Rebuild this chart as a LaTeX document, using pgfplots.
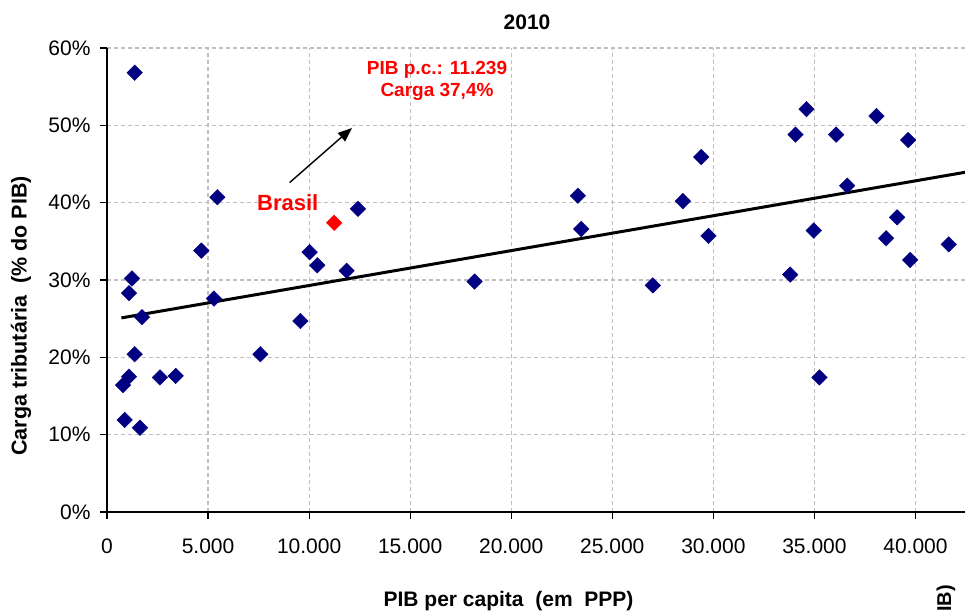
\documentclass[border=0pt]{standalone}
\usepackage{pgfplots}
\pgfplotsset{compat=1.18}
\usepackage{fontspec}
\setmainfont{Liberation Sans}
\usetikzlibrary{arrows.meta}

\definecolor{navy}{HTML}{000080}
\definecolor{gridgray}{HTML}{BFBFBF}

% GDP per capita (PPP) vs. tax burden (% of GDP), 2010
\pgfplotstableread{
x      y
1370   56.8
5460   40.7
4670   33.8
12415  39.2
10025  33.6
10405  31.9
11855  31.2
18186  29.8
1237   30.2
1088   28.3
5292   27.6
1731   25.2
9565   24.7
1370   20.4
7587   20.4
1088   17.5
791    16.4
2621   17.4
3398   17.6
875    11.9
1632   10.9
23296  40.9
23463  36.6
28490  40.2
29400  45.9
29760  35.7
27005  29.3
34607  52.1
34063  48.8
36075  48.8
38070  51.2
39638  48.1
36620  42.2
34968  36.4
39093  38.1
38550  35.4
39737  32.6
41646  34.6
33800  30.7
35250  17.4
}\paises

\begin{document}
\begin{tikzpicture}[x=1pt,y=1pt]
\useasboundingbox (0,0) rectangle (965,614);
\begin{axis}[
  at={(107pt,102pt)}, anchor=south west,
  scale only axis, width=859pt, height=464pt,
  xmin=0, xmax=42500, ymin=0, ymax=60,
  axis lines*=left,
  axis line style={line width=1.6pt},
  xtick={0,5000,...,40000}, ytick={0,10,...,60},
  scaled x ticks=false,
  tick align=outside, major tick length=7pt,
  tick style={black, line width=1.2pt},
  grid=major,
  grid style={gridgray, dash pattern=on 4pt off 3pt, line width=1.2pt},
  /pgf/number format/1000 sep={.},
  /pgf/number format/assume math mode=true,
  yticklabel={\pgfmathprintnumber{\tick}\%},
  ticklabel style={font=\fontsize{21}{25}\selectfont},
  xticklabel style={anchor=base, yshift=-34pt},
  yticklabel style={anchor=east, xshift=-6pt},
]
\addplot[only marks, mark=square*, mark size=5.5pt,
  mark options={rotate=45, fill=navy, draw=navy}] table[x=x, y=y] {\paises};
\addplot[black, line width=3pt] coordinates {(712,25.1) (42500,43.95)};
\addplot[only marks, mark=square*, mark size=5.5pt,
  mark options={rotate=45, fill=red, draw=red}] coordinates {(11239,37.4)};
\draw[-{Triangle[length=14pt,width=11pt]}, line width=1.4pt]
  (axis cs:9036,42.6) -- (axis cs:12118,49.65);
\end{axis}

\node[anchor=base, font=\bfseries\fontsize{21}{25}\selectfont] at (527,584) {2010};
\node[anchor=base, font=\bfseries\fontsize{21}{25}\selectfont] at (508.5,7.3)
  {PIB per capita\ \ (em\ \ PPP)};
\node[rotate=90, anchor=base, font=\bfseries\fontsize{21.5}{25}\selectfont] at (26.7,298)
  {Carga tributária\ \ (\%\ do PIB)};
% start of the neighbouring chart's axis title, at the lower right edge
\node[rotate=90, anchor=base east, inner sep=0pt, font=\bfseries\fontsize{20}{24}\selectfont]
  at (951,29) {IB)};
\node[anchor=base west, inner sep=0pt, text=red, font=\bfseries\fontsize{22}{26}\selectfont]
  at (257,403.3) {Brasil};
\node[anchor=base, inner sep=0pt, align=center, text=red,
  font=\bfseries\fontsize{19}{22}\selectfont] at (437,517)
  {PIB p.c.: 11.239\\Carga 37,4\%};
\end{tikzpicture}
\end{document}
